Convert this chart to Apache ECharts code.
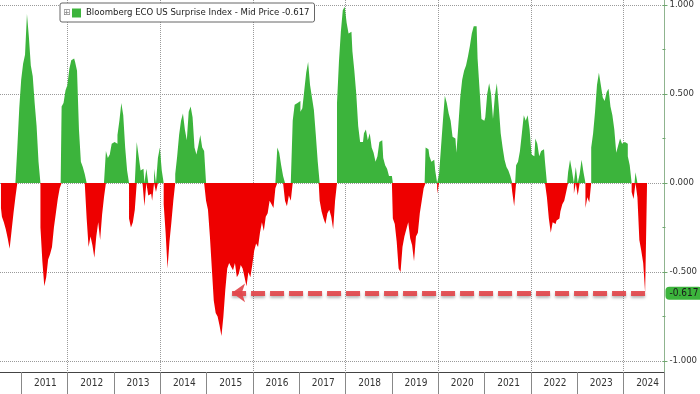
<!DOCTYPE html>
<html><head><meta charset="utf-8">
<script src="https://cdn.jsdelivr.net/npm/echarts@6/dist/echarts.min.js"></script>
<style>html,body{margin:0;padding:0;background:#fff}#c{width:700px;height:394px}</style>
</head><body><div id="c"></div>
<script>
// ---- data (semi-monthly readings) ----
const seriesName = 'Bloomberg ECO US Surprise Index - Mid Price';
const firstHalfMonth2010 = 13; // 2010 data starts in the 2nd half of July
const y2010 = [-0.14,-0.19,-0.22,-0.26,-0.31,-0.37,-0.27,-0.17,-0.08,0.2,0.42];
const y2011 = [0.58,0.67,0.72,0.95,0.82,0.66,0.6,0.45,0.32,0.12,-0.25,-0.44,-0.58,-0.53,-0.43,-0.4,-0.36,-0.25,-0.17,-0.09,-0.03,0.43,0.45,0.52];
const y2012 = [0.55,0.64,0.69,0.7,0.68,0.63,0.3,0.12,0.09,0.05,-0.2,-0.36,-0.3,-0.35,-0.42,-0.3,-0.22,-0.32,-0.18,-0.08,0.18,0.14,0.16,0.22];
const y2013 = [0.23,0.22,0.27,0.35,0.45,0.38,0.2,0.07,-0.2,-0.25,-0.22,-0.15,0.23,0.15,0.07,0.08,-0.13,0.08,-0.07,-0.06,-0.1,0.08,-0.05,0.14];
const y2014 = [0.2,0.07,-0.12,-0.28,-0.48,-0.33,-0.22,-0.1,0.05,0.15,0.27,0.35,0.39,0.3,0.24,0.4,0.43,0.37,0.2,0.16,0.21,0.27,0.2,0.18];
const y2015 = [-0.1,-0.15,-0.3,-0.48,-0.66,-0.73,-0.75,-0.8,-0.86,-0.75,-0.6,-0.48,-0.45,-0.47,-0.49,-0.45,-0.53,-0.51,-0.46,-0.48,-0.53,-0.58,-0.5,-0.53];
const y2016 = [-0.46,-0.38,-0.34,-0.36,-0.28,-0.22,-0.27,-0.19,-0.17,-0.1,-0.12,-0.14,-0.03,0.2,0.17,0.1,0.04,-0.1,-0.13,-0.07,-0.1,0.35,0.44,0.45];
const y2017 = [0.46,0.4,0.42,0.52,0.62,0.68,0.55,0.48,0.41,0.27,0.12,-0.1,-0.16,-0.2,-0.23,-0.17,-0.15,-0.19,-0.26,-0.1,0.45,0.68,0.85,0.97];
const y2018 = [0.99,0.9,0.84,0.85,0.74,0.63,0.5,0.32,0.23,0.23,0.28,0.3,0.24,0.28,0.2,0.17,0.12,0.15,0.23,0.24,0.14,0.1,0.08,0.04];
const y2019 = [0.04,-0.2,-0.23,-0.33,-0.48,-0.5,-0.36,-0.3,-0.26,-0.22,-0.31,-0.35,-0.44,-0.3,-0.28,-0.17,-0.1,-0.03,0.2,0.19,0.15,0.12,0.13,0.07];
const y2020 = [-0.06,0.05,0.2,0.35,0.49,0.45,0.39,0.35,0.26,0.25,0.17,0.32,0.48,0.58,0.63,0.66,0.71,0.77,0.84,0.88,0.88,0.7,0.53,0.36];
const y2021 = [0.35,0.37,0.5,0.56,0.5,0.36,0.49,0.56,0.43,0.28,0.2,0.13,0.09,0.07,0.04,-0.05,-0.13,0.1,0.12,0.18,0.28,0.38,0.35,0.38];
const y2022 = [0.3,0.16,0.15,0.25,0.22,0.15,0.18,0.19,0.12,-0.08,-0.2,-0.28,-0.22,-0.23,-0.21,-0.2,-0.16,-0.12,-0.1,-0.05,0.06,0.13,0.07,-0.06];
const y2023 = [0.09,-0.07,0.05,0.13,0.06,-0.14,-0.08,-0.11,0.2,0.28,0.4,0.55,0.62,0.55,0.48,0.46,0.51,0.53,0.43,0.38,0.3,0.17,0.21,0.25];
const y2024 = [0.22,0.23,0.22,0.15,0.1,-0.05,-0.09,0.06,-0.08,-0.32,-0.38,-0.45,-0.617,null,null,null,null,null,null,null,null];
const arrowFromPeriod = '2015-07b';
const yTicks = {min: -1, max: 1, step: 0.5};

// ---- build periods ----
const yearArrays = [y2010,y2011,y2012,y2013,y2014,y2015,y2016,y2017,y2018,y2019,y2020,y2021,y2022,y2023,y2024];
const periods = [], values = [];
yearArrays.forEach((arr, k) => {
  const yr = 2010 + k, off = k === 0 ? firstHalfMonth2010 : 0;
  arr.forEach((v, j) => {
    const h = off + j, m = Math.floor(h / 2) + 1;
    periods.push(yr + '-' + String(m).padStart(2, '0') + (h % 2 ? 'b' : 'a'));
    values.push(v);
  });
});
let lastIdx = values.length - 1;
while (values[lastIdx] == null) lastIdx--;
const lastVal = values[lastIdx];
const lastPeriod = periods[lastIdx];
const posVals = values.map(v => v == null ? null : Math.max(v, 0));
const negVals = values.map(v => v == null ? null : Math.min(v, 0));

const GREEN = '#3cb43c', RED = '#ee0000';
const FONT = "'DejaVu Sans Condensed','DejaVu Sans',sans-serif";

// ---- layout ----
const plotRight = 664, axisY = 372;
const isYearStart = p => p.endsWith('-01a');
const isMidYear = p => p.endsWith('-07a');

const areaSeries = (name, data, color) => ({
  name, type: 'line', xAxisIndex: 0, yAxisIndex: 0, data, step: 'middle',
  showSymbol: false, symbol: 'none', clip: false, silent: true,
  lineStyle: {width: 0, color}, itemStyle: {color},
  areaStyle: {color, opacity: 1}
});

const negSeries = areaSeries('negative', negVals, RED);
negSeries.markLine = {
  silent: true, animation: false, symbol: 'none',
  data: [
    [{coord: [arrowFromPeriod, lastVal], symbol: 'arrow', symbolSize: [14, 13],
      lineStyle: {color: '#e2464b', width: 5, type: [14, 5], opacity: 0.92,
        shadowBlur: 3, shadowColor: 'rgba(0,0,0,0.3)', shadowOffsetY: 2}},
     {coord: [lastPeriod, lastVal], symbol: 'none'}],
    {yAxis: lastVal, symbol: 'none', lineStyle: {color: 'rgba(0,0,0,0)', width: 0},
      label: {show: true, position: 'end', distance: 3, formatter: lastVal.toFixed(3),
        backgroundColor: GREEN, color: '#1a1a1a', fontFamily: FONT, fontSize: 10,
        padding: [2, 4, 1, 4], borderRadius: 4}}
  ],
  label: {show: false}
};

const chart = echarts.init(document.getElementById('c'), null, {renderer: 'canvas'});
chart.setOption({
  animation: false,
  backgroundColor: '#fff',
  grid: [
    {left: 0, right: 700 - plotRight, top: 3, bottom: 33},
    {left: 0, right: 700 - plotRight, top: 0, bottom: 394 - axisY}
  ],
  legend: {
    left: 60, top: 3, padding: [5, 5, 4, 12], itemWidth: 9, itemHeight: 9,
    borderColor: '#666', borderWidth: 1, borderRadius: 2, backgroundColor: '#fff',
    selectedMode: false,
    textStyle: {fontFamily: FONT, fontSize: 9.5, color: '#222'},
    data: [{name: seriesName, icon: 'rect', itemStyle: {color: GREEN}}],
    formatter: n => n + ' ' + lastVal.toFixed(3)
  },
  graphic: [{type: 'text', left: 63, top: 8, z: 100,
    style: {text: '\u229E', font: '9px DejaVu Sans', fill: '#888'}}],
  xAxis: [
    {type: 'category', gridIndex: 0, data: periods, show: false},
    {type: 'category', gridIndex: 1, data: periods, position: 'bottom',
      axisLine: {show: true, lineStyle: {color: '#444', width: 1}},
      axisTick: {show: true, length: 394 - axisY, lineStyle: {color: '#888'},
        interval: (i, p) => isYearStart(p)},
      axisLabel: {show: true, margin: 6, fontFamily: FONT, fontSize: 10, color: '#333',
        interval: (i, p) => isMidYear(p), formatter: p => p.slice(0, 4)},
      splitLine: {show: true, lineStyle: {color: '#9a9a9a', type: 'dotted', width: 1},
        interval: (i, p) => isYearStart(p) && (+p.slice(0, 4)) % 2 === 0}
    }
  ],
  yAxis: [
    {type: 'value', gridIndex: 0, position: 'right', min: yTicks.min, max: yTicks.max, interval: yTicks.step,
      axisLine: {show: false},
      axisTick: {show: true, length: 5, lineStyle: {color: '#6ea66e'}},
      minorTick: {show: true, splitNumber: 2, length: 3, lineStyle: {color: '#6ea66e'}},
      axisLabel: {margin: 7, fontFamily: FONT, fontSize: 9.5, color: '#333', formatter: v => v.toFixed(3)},
      splitLine: {show: true, lineStyle: {color: '#9a9a9a', type: 'dotted', width: 1}}
    },
    {type: 'value', gridIndex: 1, position: 'right', min: 0, max: 1,
      axisLine: {show: true, lineStyle: {color: '#8fb48f', width: 1}},
      axisTick: {show: false}, axisLabel: {show: false}, splitLine: {show: false}}
  ],
  series: [areaSeries(seriesName, posVals, GREEN), negSeries]
});
</script></body></html>
